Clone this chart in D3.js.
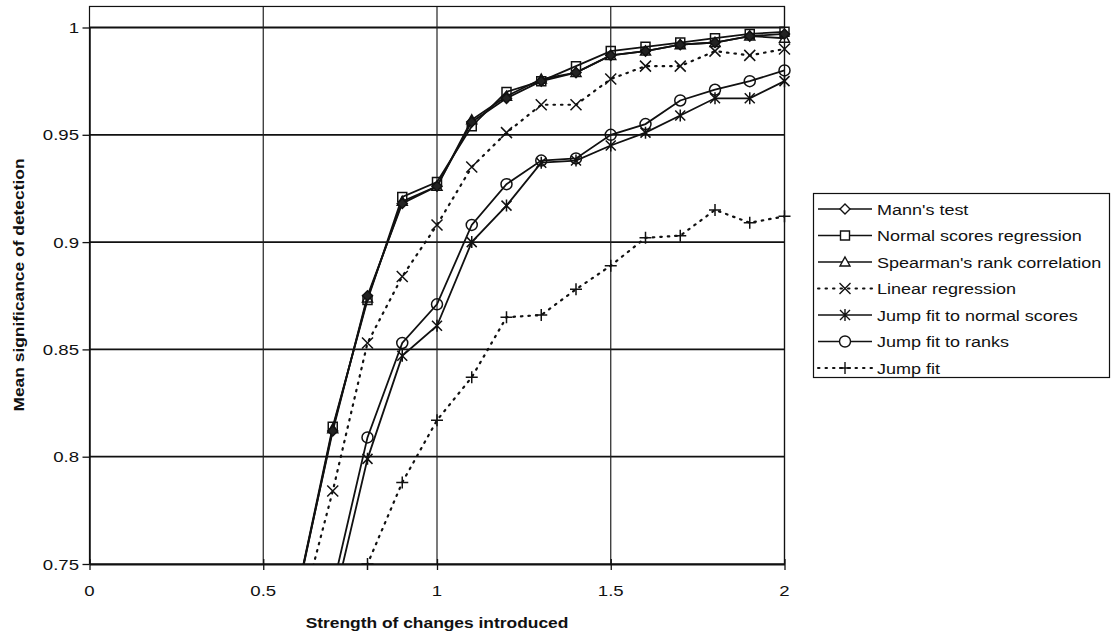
<!DOCTYPE html>
<html><head><meta charset="utf-8">
<script src="https://cdn.jsdelivr.net/npm/d3@7"></script>
<style>body{margin:0;background:#fff}svg{display:block}</style>
</head><body><svg id="c" width="1112" height="639"></svg>
<script>
// ---- data ----
const strengths = [0.6,0.7,0.8,0.9,1.0,1.1,1.2,1.3,1.4,1.5,1.6,1.7,1.8,1.9,2.0];
const mannTest      = [0.738,0.812,0.875,0.918,0.926,0.956,0.967,0.975,0.979,0.987,0.989,0.992,0.993,0.996,0.997];
const normalScores  = [0.738,0.814,0.873,0.921,0.928,0.954,0.970,0.975,0.982,0.989,0.991,0.993,0.995,0.997,0.998];
const spearman      = [0.737,0.813,0.874,0.919,0.926,0.957,0.968,0.976,0.979,0.987,0.989,0.992,0.993,0.996,0.995];
const linearReg     = [0.722,0.784,0.853,0.884,0.908,0.935,0.951,0.964,0.964,0.976,0.982,0.982,0.989,0.987,0.990];
const jumpNormal    = [0.680,0.730,0.799,0.847,0.861,0.900,0.917,0.937,0.938,0.945,0.951,0.959,0.967,0.967,0.975];
const jumpRanks     = [0.680,0.739,0.809,0.853,0.871,0.908,0.927,0.938,0.939,0.950,0.955,0.966,0.971,0.975,0.980];
const jumpFit       = [0.650,0.710,0.750,0.788,0.817,0.837,0.865,0.866,0.878,0.889,0.902,0.903,0.915,0.909,0.912];
const seriesNames = ["Mann's test","Normal scores regression","Spearman's rank correlation","Linear regression","Jump fit to normal scores","Jump fit to ranks","Jump fit"];
const xTicks = [0,0.5,1,1.5,2];
const xTickLabels = ["0","0.5","1","1.5","2"];
const yTicks = [0.75,0.8,0.85,0.9,0.95,1];
const yTickLabels = ["0.75","0.8","0.85","0.9","0.95","1"];
const xTitle = "Strength of changes introduced";
const yTitle = "Mean significance of detection";

// ---- config ----
const series = [
  {name: seriesNames[0], values: mannTest, marker: "diamond", dotted: false, plotFill: "#222"},
  {name: seriesNames[1], values: normalScores, marker: "square", dotted: false},
  {name: seriesNames[2], values: spearman, marker: "triangle", dotted: false},
  {name: seriesNames[3], values: linearReg, marker: "x", dotted: true},
  {name: seriesNames[4], values: jumpNormal, marker: "asterisk", dotted: false},
  {name: seriesNames[5], values: jumpRanks, marker: "circle", dotted: false},
  {name: seriesNames[6], values: jumpFit, marker: "plus", dotted: true}
];
const markerPaths = {
  diamond: "M0,-5L5,0L0,5L-5,0Z",
  square: "M-4.5,-4.5h9v9h-9Z",
  triangle: "M0,-5L5,4L-5,4Z",
  x: "M-5.5,-5.5L5.5,5.5M-5.5,5.5L5.5,-5.5",
  asterisk: "M-5,-5L5,5M-5,5L5,-5M0,-6V6",
  circle: "M-5.5,0a5.5,5.5 0 1,0 11,0a5.5,5.5 0 1,0 -11,0",
  plus: "M-6,0H6M0,-6V6"
};
const FONT = "Arial, 'Liberation Sans', Helvetica, sans-serif";
const SX = 1.2;

const svg = d3.select("#c");
const x = d3.scaleLinear().domain([0,2]).range([89.5,784.5]);
const y = d3.scaleLinear().domain([0.75,1]).range([564,27.5]);
const yTopVal = 1.0098;
const pLeft = x(0), pRight = x(2), pBottom = y(0.75), pTop = y(yTopVal);

function txt(g, px, py, s, o) {
  o = o || {};
  return g.append("text")
    .attr("transform", `translate(${px},${py}) rotate(${o.rot||0}) scale(${SX},1)`)
    .attr("text-anchor", o.anchor || "start")
    .attr("font-family", FONT)
    .attr("font-size", o.size || 15)
    .attr("font-weight", o.bold ? "bold" : "normal")
    .attr("fill", "#111")
    .text(s);
}

// gridlines
const grid = svg.append("g");
grid.selectAll("line.h").data(yTicks.slice(1)).join("line")
  .attr("x1", pLeft).attr("x2", pRight).attr("y1", d=>y(d)).attr("y2", d=>y(d))
  .attr("stroke", "#111").attr("stroke-width", 1.8);
grid.selectAll("line.v").data(xTicks.slice(1)).join("line")
  .attr("y1", pTop).attr("y2", pBottom).attr("x1", d=>x(d)).attr("x2", d=>x(d))
  .attr("stroke", "#222").attr("stroke-width", 1.2);
// border
svg.append("rect").attr("x", pLeft).attr("y", pTop).attr("width", pRight-pLeft).attr("height", pBottom-pTop)
  .attr("fill", "none").attr("stroke", "#111").attr("stroke-width", 1.2);

// axes
const yAxis = d3.axisLeft(y).tickValues(yTicks).tickFormat(()=>"").tickSize(7).tickSizeOuter(0);
const gy = svg.append("g").attr("transform", `translate(${pLeft},0)`).call(yAxis);
gy.select(".domain").attr("stroke", "#111").attr("stroke-width", 1.5);
gy.selectAll(".tick line").attr("stroke", "#111").attr("stroke-width", 1.3);
const xAxis = d3.axisBottom(x).tickValues(xTicks).tickFormat(()=>"").tickSize(6).tickSizeOuter(0);
const gx = svg.append("g").attr("transform", `translate(0,${pBottom})`).call(xAxis);
gx.select(".domain").attr("stroke", "#111").attr("stroke-width", 1.8);
gx.selectAll(".tick line").attr("y1", -5).attr("stroke", "#111").attr("stroke-width", 1.3);

yTicks.forEach((t,i)=>txt(svg, 79, y(t)+5.5, yTickLabels[i], {anchor:"end", size:15.5}));
xTicks.forEach((t,i)=>txt(svg, x(t), pBottom+32, xTickLabels[i], {anchor:"middle", size:15.5}));
txt(svg, 437, 628, xTitle, {anchor:"middle", bold:true, size:14.5});
txt(svg, 24, 285, yTitle, {anchor:"middle", bold:true, size:14.5, rot:-90});

// clip
svg.append("clipPath").attr("id","plotclip").append("rect")
  .attr("x", pLeft).attr("y", pTop).attr("width", pRight-pLeft).attr("height", pBottom-pTop);

const line = d3.line().x((d,i)=>x(strengths[i])).y(d=>y(d));
const plot = svg.append("g");
const order = [6,4,5,3,2,1,0];
order.forEach(k=>{
  const s = series[k];
  plot.append("path").attr("clip-path","url(#plotclip)")
    .attr("d", line(s.values))
    .attr("fill","none").attr("stroke","#111")
    .attr("stroke-width", s.dotted ? 2.2 : 1.8)
    .attr("stroke-dasharray", s.dotted ? "1.5,6" : null)
    .attr("stroke-linecap", s.dotted ? "round" : "butt");
  const pts = s.values.map((v,i)=>({x:strengths[i], v})).filter(p=>p.v >= 0.7495);
  plot.selectAll(null).data(pts).join("path")
    .attr("transform", p=>`translate(${x(p.x)},${y(p.v)})`)
    .attr("d", markerPaths[s.marker])
    .attr("fill", s.plotFill || "none").attr("stroke", "#111").attr("stroke-width", 1.5);
});

// legend
const lg = svg.append("g");
lg.append("rect").attr("x", 813.5).attr("y", 193.5).attr("width", 296).attr("height", 184)
  .attr("fill","#fff").attr("stroke","#111").attr("stroke-width",1.2);
series.forEach((s,i)=>{
  const cy = 209 + i*26.5;
  lg.append("line").attr("x1", 818).attr("x2", 872).attr("y1", cy).attr("y2", cy)
    .attr("stroke","#111").attr("stroke-width", s.dotted ? 2 : 1.7)
    .attr("stroke-dasharray", s.dotted ? "1.5,6" : null)
    .attr("stroke-linecap", s.dotted ? "round" : "butt");
  lg.append("path").attr("transform", `translate(845,${cy})`).attr("d", markerPaths[s.marker])
    .attr("fill","#fff").attr("stroke","#111").attr("stroke-width",1.4);
  txt(lg, 877, cy+5.5, s.name, {size:15});
});
</script></body></html>
